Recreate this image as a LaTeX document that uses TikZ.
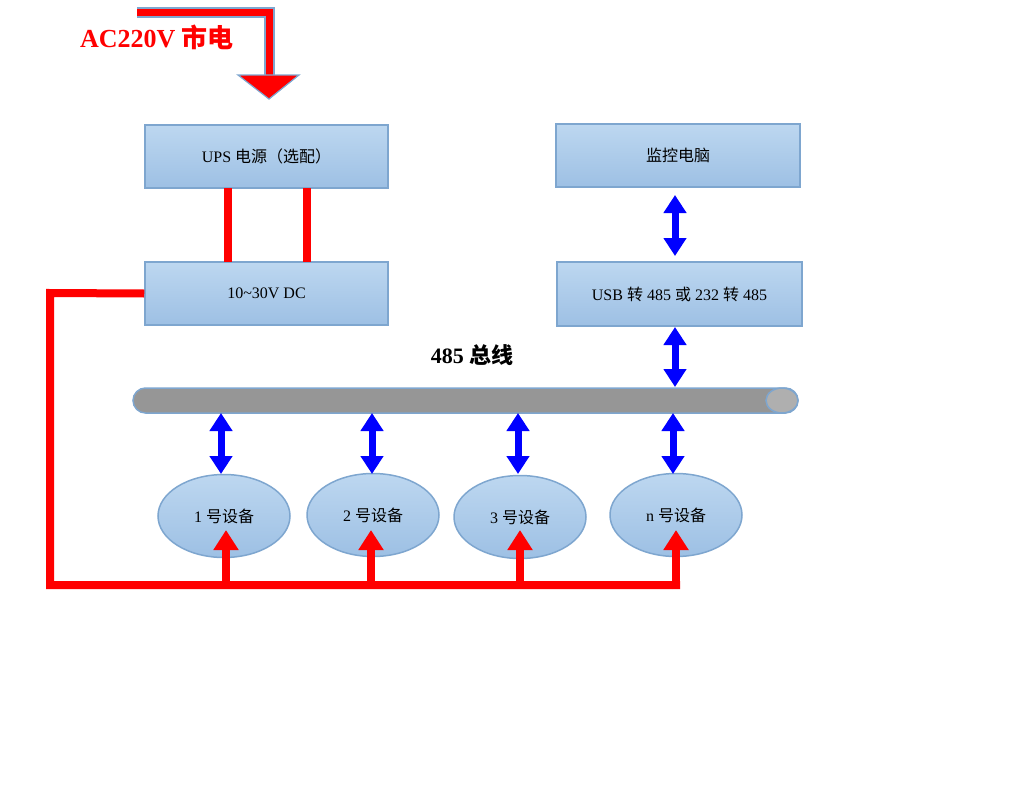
\documentclass[tikz,border=0pt]{standalone}
\usepackage{fontspec}
\setmainfont{Liberation Serif}
\newfontfamily\cjk{Noto Sans CJK SC}
\newcommand{\zh}[1]{{\cjk #1}}
\usetikzlibrary{arrows.meta,shapes.geometric}
\definecolor{bord}{HTML}{7EA6CF}
\definecolor{ftop}{HTML}{BDD7F0}
\definecolor{fbot}{HTML}{9DC0E4}
\begin{document}
\begin{tikzpicture}[x=1pt,y=-1pt,
  box/.style={draw=bord,line width=1.5pt,top color=ftop,bottom color=fbot,minimum width=243pt,minimum height=63pt,font=\fontsize{16}{18}\selectfont},
  dev/.style={ellipse,draw=bord,line width=1.5pt,top color=ftop,bottom color=fbot,minimum width=132pt,minimum height=83pt,font=\fontsize{16}{18}\selectfont},
  barr/.style={blue,line width=7pt,{Triangle[width=22pt,length=18pt]}-{Triangle[width=22pt,length=18pt]}},
  rline/.style={red,line width=8pt},
  rarr/.style={red,line width=8pt,-{Triangle[width=24pt,length=20pt]}}]
\useasboundingbox (0,0) rectangle (1023,803);
% top arrow
\coordinate (a0) at (137,12); \coordinate (a1) at (269,12); \coordinate (a2) at (269,78); \coordinate (a3) at (269,99);
\draw[bord,line width=11pt] (a0) -- (a1) -- (a2);
\draw[red,line width=7pt] (a0) -- (a1) -- (a2);
\fill[red,draw=bord,line width=1.2pt] (238,75) -- (299,75) -- (a3) -- cycle;
\node[red,font=\fontsize{26}{28}\selectfont\bfseries] (ac) at (157,37) {AC220V \zh{市电}};
% boxes
\node[box] (ups) at (266.5,156.5) {UPS \zh{电源（选配）}};
\node[box] (dc) at (266.5,293.5) {10\textasciitilde30V DC};
\node[box,minimum width=244pt] (pc) at (678,155.5) {\zh{监控电脑}};
\node[box,minimum width=245pt,minimum height=64pt] (usb) at (679.5,294) {USB \zh{转} 485 \zh{或} 232 \zh{转} 485};
\node[font=\fontsize{22}{24}\selectfont\bfseries] (bl) at (472,355) {485 \zh{总线}};
% bus
\draw[bord,line width=1.5pt,fill={rgb,255:red,150;green,150;blue,150},rounded corners=12.5pt] (133,388) rectangle (798,413);
\draw[bord,line width=1.5pt,fill={rgb,255:red,175;green,175;blue,175}] (782,400.5) ellipse (16 and 12.5);
\coordinate (b1) at (221,413); \coordinate (b2) at (372,413); \coordinate (b3) at (518,413); \coordinate (b4) at (673,413); \coordinate (bt) at (675,387);
% devices
\node[dev] (d1) at (224,516) {1 \zh{号设备}};
\node[dev] (d2) at (373,515) {2 \zh{号设备}};
\node[dev] (d3) at (520,517) {3 \zh{号设备}};
\node[dev] (d4) at (676,515) {n \zh{号设备}};
% blue arrows
\draw[barr] (b1) -- (221,474);
\draw[barr] (b2) -- (372,474);
\draw[barr] (b3) -- (518,474);
\draw[barr] (b4) -- (673,474);
\draw[barr] (675,195) -- (675,256);
\draw[barr] (675,327) -- (bt);
% red power
\draw[rline] (228,188) -- (228,262);
\draw[rline] (307,188) -- (307,262);
\coordinate (c1) at (50,293); \coordinate (c2) at (50,585); \coordinate (c3) at (680,585);
\draw[rline] (dc.west) -- (c1) -- (c2) -- (c3);
\draw[rarr] (226,585) -- (226,530);
\draw[rarr] (371,585) -- (371,530);
\draw[rarr] (520,585) -- (520,530);
\draw[rarr] (676,589) -- (676,530);
\end{tikzpicture}
\end{document}
